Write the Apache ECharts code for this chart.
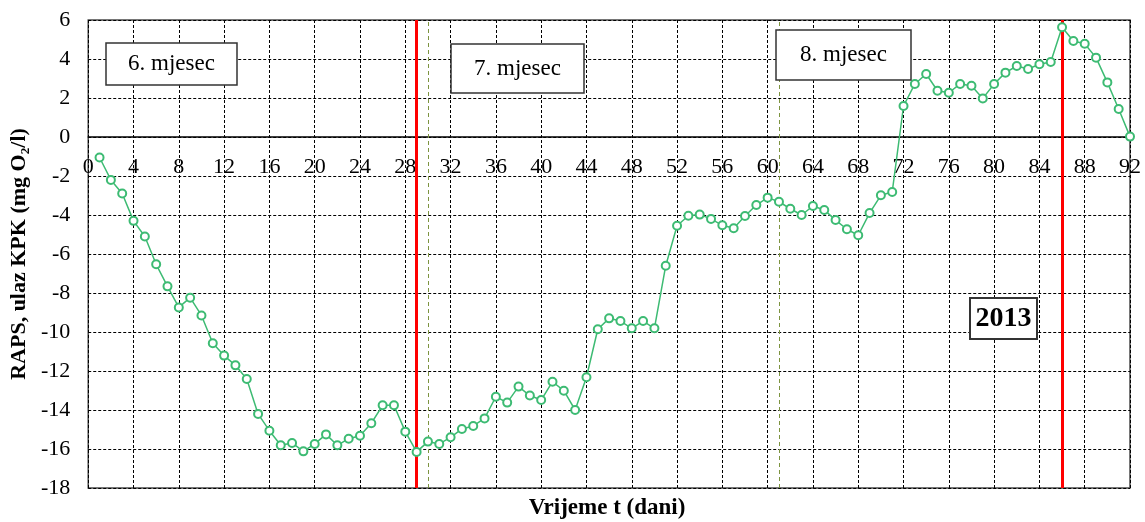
<!DOCTYPE html>
<html>
<head>
<meta charset="utf-8">
<script src="https://cdn.jsdelivr.net/npm/echarts@6/dist/echarts.min.js"></script>
<style>
html,body{margin:0;padding:0;background:#fff;}
#chart{width:1145px;height:522px;}
</style>
</head>
<body>
<div id="chart"></div>
<script>
// RAPS values, one per day (day 1 .. 92)
const rapsValues = [
  -1.05, -2.2, -2.9, -4.3, -5.1, -6.53, -7.66, -8.74, -8.24, -9.15,
  -10.58, -11.21, -11.71, -12.41, -14.2, -15.06, -15.81, -15.69, -16.12, -15.74,
  -15.25, -15.81, -15.47, -15.32, -14.68, -13.76, -13.76, -15.11, -16.15, -15.62,
  -15.74, -15.4, -14.97, -14.82, -14.43, -13.32, -13.62, -12.8, -13.26, -13.49,
  -12.55, -13.01, -14.0, -12.32, -9.86, -9.3, -9.44, -9.81, -9.44, -9.81,
  -6.6, -4.55, -4.04, -3.98, -4.2, -4.53, -4.68, -4.05, -3.49, -3.11,
  -3.32, -3.68, -4.0, -3.54, -3.74, -4.26, -4.73, -5.04, -3.9, -2.99,
  -2.82, 1.59, 2.72, 3.23, 2.37, 2.27, 2.72, 2.63, 1.98, 2.72,
  3.3, 3.64, 3.49, 3.73, 3.85, 5.63, 4.92, 4.78, 4.07, 2.8,
  1.44, 0.02
];
const firstDay = 1;
const redLines = [29, 86];        // red vertical markers (days)
const monthBoundaries = [30, 61]; // green dashed month boundaries (days)
const monthLabels = ['6. mjesec', '7. mjesec', '8. mjesec'];
const yearLabel = '2013';
const xTitle = 'Vrijeme t (dani)';
const yTitle = 'RAPS, ulaz KPK (mg O\u2082/l)';
const yMin = -18, yMax = 6;

const seriesData = rapsValues.map((v, i) => [firstDay + i, v]);

const FONT = 'Liberation Serif';
const GRID = {left: 88, right: 15, top: 20, bottom: 34};
const W = 1145, H = 522;
const plotH = H - GRID.top - GRID.bottom;
// place the x axis (line + labels) at y = 0, as in the reference
const zeroOffset = -plotH * (0 - yMin) / (yMax - yMin);

const chart = echarts.init(document.getElementById('chart'), null, {renderer: 'canvas'});

function box(x, y, w, h, text, fontSize, bold, bw) {
  return {
    type: 'group', x: x, y: y, z: 100,
    children: [
      {type: 'rect', z: 100, shape: {x: 0, y: 0, width: w, height: h},
       style: {fill: '#fff', stroke: '#333', lineWidth: bw}},
      {type: 'text', z: 101, x: w / 2, y: h / 2,
       style: {text: text, fill: '#000', font: (bold ? 'bold ' : '') + fontSize + 'px "' + FONT + '"',
               align: 'center', verticalAlign: 'middle'}}
    ]
  };
}

const option = {
  animation: false,
  backgroundColor: '#fff',
  grid: Object.assign({
    show: true, borderColor: '#4a4a4a', borderWidth: 1.5, backgroundColor: 'transparent'
  }, GRID),
  xAxis: {
    type: 'value', min: 0, max: 92, interval: 4,
    position: 'bottom',
    offset: zeroOffset,
    axisLine: {show: true, onZero: false, lineStyle: {color: '#000', width: 1.5}},
    axisTick: {show: false},
    axisLabel: {color: '#000', fontFamily: FONT, fontSize: 22, margin: 19},
    splitLine: {show: true, lineStyle: {color: '#000', width: 1, type: [3, 2]}}
  },
  yAxis: {
    type: 'value', min: yMin, max: yMax, interval: 2,
    name: yTitle, nameLocation: 'middle', nameGap: 53, nameRotate: 90,
    nameTextStyle: {color: '#000', fontFamily: FONT, fontSize: 22, fontWeight: 'bold'},
    axisLine: {show: false},
    axisTick: {show: false},
    axisLabel: {color: '#000', fontFamily: FONT, fontSize: 22, margin: 18},
    splitLine: {show: true, lineStyle: {color: '#000', width: 1, type: [3, 2]}}
  },
  series: [{
    type: 'line',
    data: seriesData,
    symbol: 'emptyCircle',
    symbolSize: 8,
    lineStyle: {color: '#3dbb73', width: 1.5},
    itemStyle: {color: '#3dbb73', borderWidth: 1.5},
    z: 5,
    markLine: {
      silent: true,
      symbol: ['none', 'none'],
      label: {show: false},
      data: [
        ...monthBoundaries.map(d => ({xAxis: d, lineStyle: {color: '#7d9440', width: 1, type: [4, 3]}})),
        ...redLines.map(d => ({xAxis: d, lineStyle: {color: '#ff0000', width: 3, type: 'solid'}}))
      ]
    }
  }],
  graphic: [
    box(106, 43, 131, 42, monthLabels[0], 23, false, 1.5),
    box(451, 44, 133, 49, monthLabels[1], 23, false, 1.5),
    box(776, 30, 135, 50, monthLabels[2], 23, false, 1.5),
    box(970, 298, 67, 41, yearLabel, 28, true, 2),
    {type: 'text', x: 607, y: 508, z: 100,
     style: {text: xTitle, fill: '#000', font: 'bold 23px "' + FONT + '"',
             align: 'center', verticalAlign: 'middle'}}
  ]
};
chart.setOption(option);
</script>
</body>
</html>
